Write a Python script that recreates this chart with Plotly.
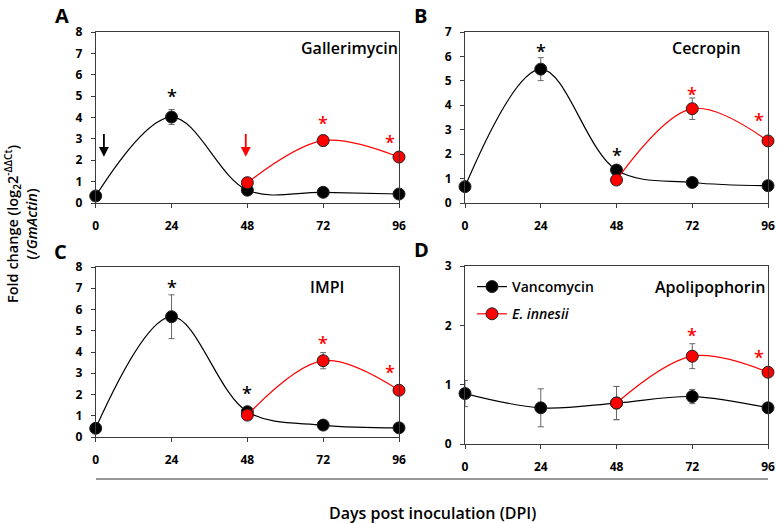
import plotly.graph_objects as go

# ---------------- data ----------------
days = [0, 24, 48, 72, 96]
days_ei = [48, 72, 96]

gal_vanc = [0.33, 4.02, 0.60, 0.50, 0.42]
gal_vanc_err = [0.0, 0.35, 0.0, 0.0, 0.0]
gal_ei = [0.95, 2.92, 2.15]
gal_ei_err = [0.0, 0.25, 0.0]

cec_vanc = [0.67, 5.48, 1.35, 0.84, 0.71]
cec_vanc_err = [0.0, 0.47, 0.0, 0.0, 0.0]
cec_ei = [0.94, 3.86, 2.54]
cec_ei_err = [0.0, 0.44, 0.0]

impi_vanc = [0.41, 5.66, 1.19, 0.56, 0.43]
impi_vanc_err = [0.0, 1.03, 0.2, 0.0, 0.0]
impi_ei = [1.03, 3.59, 2.20]
impi_ei_err = [0.0, 0.38, 0.0]

apo_vanc = [0.85, 0.61, 0.69, 0.80, 0.61]
apo_vanc_err = [0.22, 0.32, 0.28, 0.12, 0.0]
apo_ei = [0.69, 1.48, 1.21]
apo_ei_err = [0.28, 0.21, 0.0]

gene_names = ["Gallerimycin", "Cecropin", "IMPI", "Apolipophorin"]
panel_letters = ["A", "B", "C", "D"]
y_max = [8, 7, 8, 3]
x_ticks = [0, 24, 48, 72, 96]

# significance stars: (x, y, colour)
stars = [
    [(24, 5.25, "black"), (72, 4.0, "red"), (93, 3.1, "red")],
    [(24, 6.44, "black"), (48, 2.17, "black"), (72, 4.65, "red"), (93, 3.6, "red")],
    [(24, 7.31, "black"), (48, 2.32, "black"), (72, 4.64, "red"), (93, 3.28, "red")],
    [(72, 1.92, "red"), (93, 1.55, "red")],
]

# inoculation arrows in panel A: (x, y_top, y_tip, colour)
arrows = [(2.6, 3.3, 2.16, "black"), (47.5, 3.3, 2.16, "red")]

series = [
    (gal_vanc, gal_vanc_err, gal_ei, gal_ei_err),
    (cec_vanc, cec_vanc_err, cec_ei, cec_ei_err),
    (impi_vanc, impi_vanc_err, impi_ei, impi_ei_err),
    (apo_vanc, apo_vanc_err, apo_ei, apo_ei_err),
]

# ---------------- layout geometry ----------------
W, H = 777, 523
xdom = [[95.7 / W, 399 / W], [465 / W, 768 / W], [95.7 / W, 399 / W], [465 / W, 768 / W]]
ydom = [[1 - 203 / H, 1 - 32 / H], [1 - 203 / H, 1 - 32 / H],
        [1 - 437 / H, 1 - 267 / H], [1 - 444 / H, 1 - 266 / H]]
letter_pos = [(53, 0), (412, 0), (52, 236), (412, 234)]
title_pos = [(349, 48), (706, 48), (327, 287), (710, 287)]

FONT = "Open Sans"
AX = "#3a3a3a"
ERR = "#666666"

fig = go.Figure()
layout = dict(
    template="none",
    width=W, height=H,
    margin=dict(l=0, r=0, t=0, b=0, pad=0),
    paper_bgcolor="white", plot_bgcolor="white",
    font=dict(family=FONT, size=12, color="black", weight=600),
    showlegend=True,
)

annotations = []
shapes = []

for i in range(4):
    n = "" if i == 0 else str(i + 1)
    xa, ya = "x" + n, "y" + n
    v, ve, e, ee = series[i]
    show = (i == 3)
    fig.add_trace(go.Scatter(
        x=days, y=v, xaxis=xa, yaxis=ya, mode="lines+markers",
        name="Vancomycin", legendgroup="v", showlegend=show,
        line=dict(color="black", width=1.2, shape="spline", smoothing=1.0),
        marker=dict(color="black", size=12, line=dict(color="#222", width=1)),
        error_y=dict(type="data", array=ve, visible=True, color=ERR, thickness=1, width=3),
        cliponaxis=False,
    ))
    fig.add_trace(go.Scatter(
        x=days_ei, y=e, xaxis=xa, yaxis=ya, mode="lines+markers",
        name="<i>E. innesii</i>", legendgroup="e", showlegend=show,
        line=dict(color="red", width=1.2, shape="spline", smoothing=1.0),
        marker=dict(color="red", size=12, line=dict(color="#222", width=1)),
        error_y=dict(type="data", array=ee, visible=True, color=ERR, thickness=1, width=3),
        cliponaxis=False,
    ))
    layout["xaxis" + n] = dict(
        domain=xdom[i], anchor=ya, range=[0, 96], tickvals=x_ticks,
        ticks="outside", ticklen=4, tickcolor=AX, showline=True, linecolor=AX,
        linewidth=1, mirror=True, showgrid=False, zeroline=False, automargin=False,
        ticklabelstandoff=8, tickfont=dict(size=12, family=FONT, weight=700),
    )
    layout["yaxis" + n] = dict(
        domain=ydom[i], anchor=xa, range=[0, y_max[i]], dtick=1,
        ticks="outside", ticklen=4, tickcolor=AX, showline=True, linecolor=AX,
        linewidth=1, mirror=True, showgrid=False, zeroline=False, automargin=False,
        ticklabelstandoff=6, tickfont=dict(size=12, family=FONT, weight=700),
    )
    # gene title
    tx, ty = title_pos[i]
    annotations.append(dict(
        xref="paper", yref="paper", x=tx / W, y=1 - ty / H,
        xanchor="center", yanchor="middle",
        text=gene_names[i], showarrow=False,
        font=dict(size=16, family=FONT, weight=600, color="black"),
    ))
    # panel letter
    lx, ly = letter_pos[i]
    annotations.append(dict(
        xref="paper", yref="paper", x=lx / W, y=1 - ly / H,
        xanchor="left", yanchor="top", text=panel_letters[i], showarrow=False,
        font=dict(size=20, family=FONT, weight=700, color="black"),
    ))
    for sx, sy, sc in stars[i]:
        annotations.append(dict(
            xref=xa, yref=ya, x=sx, y=sy, text="*", showarrow=False,
            xanchor="center", yanchor="middle",
            font=dict(size=18, family=FONT, color=sc), yshift=-5,
        ))

for axx, ytop, ytip, col in arrows:
    annotations.append(dict(
        xref="x", yref="y", axref="x", ayref="y", x=axx, y=ytip, ax=axx, ay=ytop,
        showarrow=True, arrowhead=2, arrowsize=1.1, arrowwidth=1.8, arrowcolor=col, text="",
    ))

# y-axis title
annotations.append(dict(
    xref="paper", yref="paper", x=21 / W, y=1 - 224 / H, textangle=-90,
    text="Fold change (log<sub>2</sub>2<sup>-ΔΔCt</sup>)<br>(/<i>GmActin</i>)",
    showarrow=False, xanchor="center", yanchor="middle",
    font=dict(size=14.5, family=FONT, weight=600, color="black"),
))
# x-axis title
annotations.append(dict(
    xref="paper", yref="paper", x=432 / W, y=1 - 513 / H,
    xanchor="center", yanchor="middle",
    text="Days post inoculation (DPI)", showarrow=False,
    font=dict(size=16, family=FONT, weight=600, color="black"),
))
shapes.append(dict(type="line", xref="paper", yref="paper",
                   x0=96 / W, x1=768 / W, y0=1 - 479 / H, y1=1 - 479 / H,
                   line=dict(color="#333", width=1)))

layout["annotations"] = annotations
layout["shapes"] = shapes
layout["legend"] = dict(
    x=472 / W, y=1 - 271 / H, xanchor="left", yanchor="top",
    bgcolor="rgba(0,0,0,0)", tracegroupgap=6,
    font=dict(size=14, family=FONT, weight=600, color="black"),
)
fig.update_layout(**layout)
fig.write_html("out.html", config={"displayModeBar": False},
               post_script="document.body.style.margin='0';document.body.style.overflow='hidden';")
